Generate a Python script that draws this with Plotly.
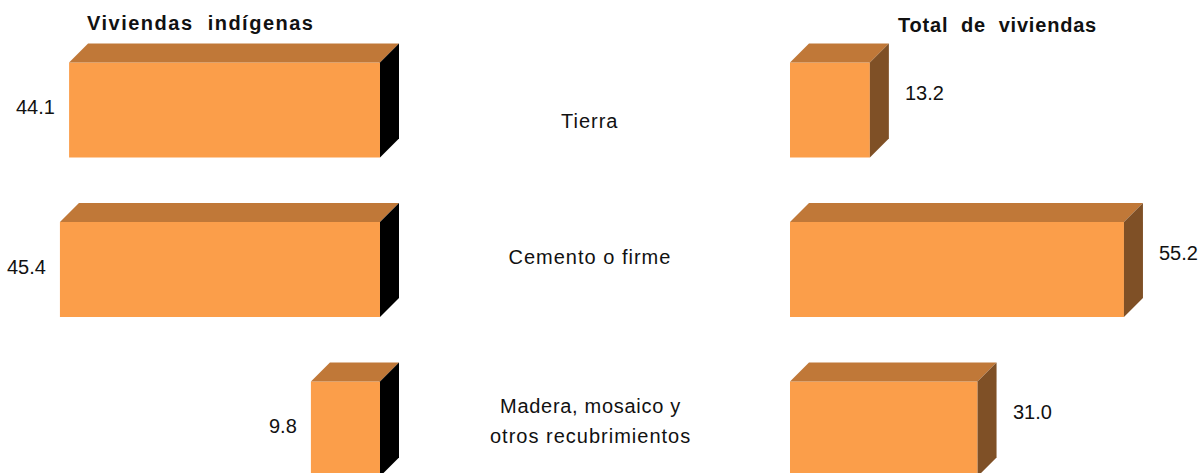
import plotly.graph_objects as go

categorias = ['Tierra', 'Cemento o firme', 'Madera, mosaico y<br>otros recubrimientos']
indigenas = [44.1, 45.4, 9.8]
total = [13.2, 55.2, 31.0]

W, H = 1202, 473
FRONT = '#FB9E4A'
TOP = '#C07838'
SIDE_L = '#000000'
SIDE_R = '#7F5026'
FONT = 'Arial, Liberation Sans, sans-serif'

# pixel geometry of the two panels
left_zero, left_scale = 380, 7.05
right_zero, right_scale = 790, 6.05
row0, row_step = 110, 159.5
bar_px, depth_px = 95, 19

dom_l = [0, 0.42]
dom_r = [0.58, 1.0]
rng_l = [left_zero / left_scale, -(dom_l[1] * W - left_zero) / left_scale]
rng_r = [-(right_zero - dom_r[0] * W) / right_scale, (W - right_zero) / right_scale]
rng_y = [(H - row0) / row_step, -row0 / row_step]

bw = bar_px / row_step
ey = depth_px / row_step
dl = depth_px / left_scale
dr = depth_px / right_scale

ys = list(range(len(categorias)))

fig = go.Figure()


def poly(xs, yv, color, xaxis):
    fig.add_trace(go.Scatter(x=xs + [xs[0]], y=yv + [yv[0]], mode='lines', fill='toself',
                             fillcolor=color, line=dict(width=0, color=color),
                             xaxis=xaxis, yaxis='y', hoverinfo='skip', showlegend=False))


fig.add_trace(go.Bar(x=indigenas, y=ys, orientation='h', width=bw, marker=dict(color=FRONT, line=dict(width=0)),
                     xaxis='x', yaxis='y', hoverinfo='skip', showlegend=False))
fig.add_trace(go.Bar(x=total, y=ys, orientation='h', width=bw, marker=dict(color=FRONT, line=dict(width=0)),
                     xaxis='x2', yaxis='y', hoverinfo='skip', showlegend=False))

for y, v in zip(ys, indigenas):
    yt, yb = y - bw / 2, y + bw / 2
    poly([v, 0, -dl, v - dl], [yt, yt, yt - ey, yt - ey], TOP, 'x')
    poly([0, 0, -dl, -dl], [yt, yb, yb - ey, yt - ey], SIDE_L, 'x')

for y, v in zip(ys, total):
    yt, yb = y - bw / 2, y + bw / 2
    poly([0, v, v + dr, dr], [yt, yt, yt - ey, yt - ey], TOP, 'x2')
    poly([v, v, v + dr, v + dr], [yt, yb, yb - ey, yt - ey], SIDE_R, 'x2')

ann = []
for y, v in zip(ys, indigenas):
    ann.append(dict(x=v, y=y, xref='x', yref='y', text=f'{v:.1f}', showarrow=False,
                    xanchor='right', xshift=-12, yshift=3, font=dict(size=20, color='#111')))
for y, v in zip(ys, total):
    ann.append(dict(x=v + dr, y=y, xref='x2', yref='y', text=f'{v:.1f}', showarrow=False,
                    xanchor='left', xshift=14, yshift=17, font=dict(size=20, color='#111')))

label_shift = [-11, 13, 8]
for y, c, s in zip(ys, categorias, label_shift):
    lines = c.split('<br>')
    n = len(lines)
    for i, t in enumerate(lines):
        ann.append(dict(x=590 / W, y=y, xref='paper', yref='y', text=t, showarrow=False,
                        xanchor='center', yshift=s + (n - 1) * 15 - i * 30,
                        font=dict(size=20, color='#111')))

ann.append(dict(x=200 / W, y=1 - 23 / H, xref='paper', yref='paper', text='<b>Viviendas  indígenas</b>',
                showarrow=False, xanchor='center', yanchor='middle', font=dict(size=20, color='#111')))
ann.append(dict(x=997 / W, y=1 - 25 / H, xref='paper', yref='paper', text='<b>Total  de  viviendas</b>',
                showarrow=False, xanchor='center', yanchor='middle', font=dict(size=20, color='#111')))

hidden = dict(showgrid=False, zeroline=False, showticklabels=False, showline=False, ticks='', fixedrange=True)
fig.update_layout(
    width=W, height=H,
    margin=dict(l=0, r=0, t=0, b=0),
    paper_bgcolor='white', plot_bgcolor='white',
    font=dict(family=FONT),
    barmode='overlay',
    xaxis=dict(domain=dom_l, range=rng_l, anchor='y', **hidden),
    xaxis2=dict(domain=dom_r, range=rng_r, anchor='y', **hidden),
    yaxis=dict(domain=[0, 1], range=rng_y, **hidden),
    annotations=ann,
)

# page margin off, and the slightly spaced lettering of the original
post = """
document.body.style.margin = '0';
var sp = [['Viviendas', '1.5px'], ['Total', '0.8px'], ['Tierra', '1px'], ['Cemento', '1px'],
          ['otros', '1px'], ['Madera', '0.7px']];
document.querySelectorAll('text.annotation-text').forEach(function (t) {
  sp.forEach(function (p) { if (t.textContent.indexOf(p[0]) === 0) { t.style.letterSpacing = p[1]; } });
});
"""
fig.write_html('out.html', post_script=post, config={'displayModeBar': False})
